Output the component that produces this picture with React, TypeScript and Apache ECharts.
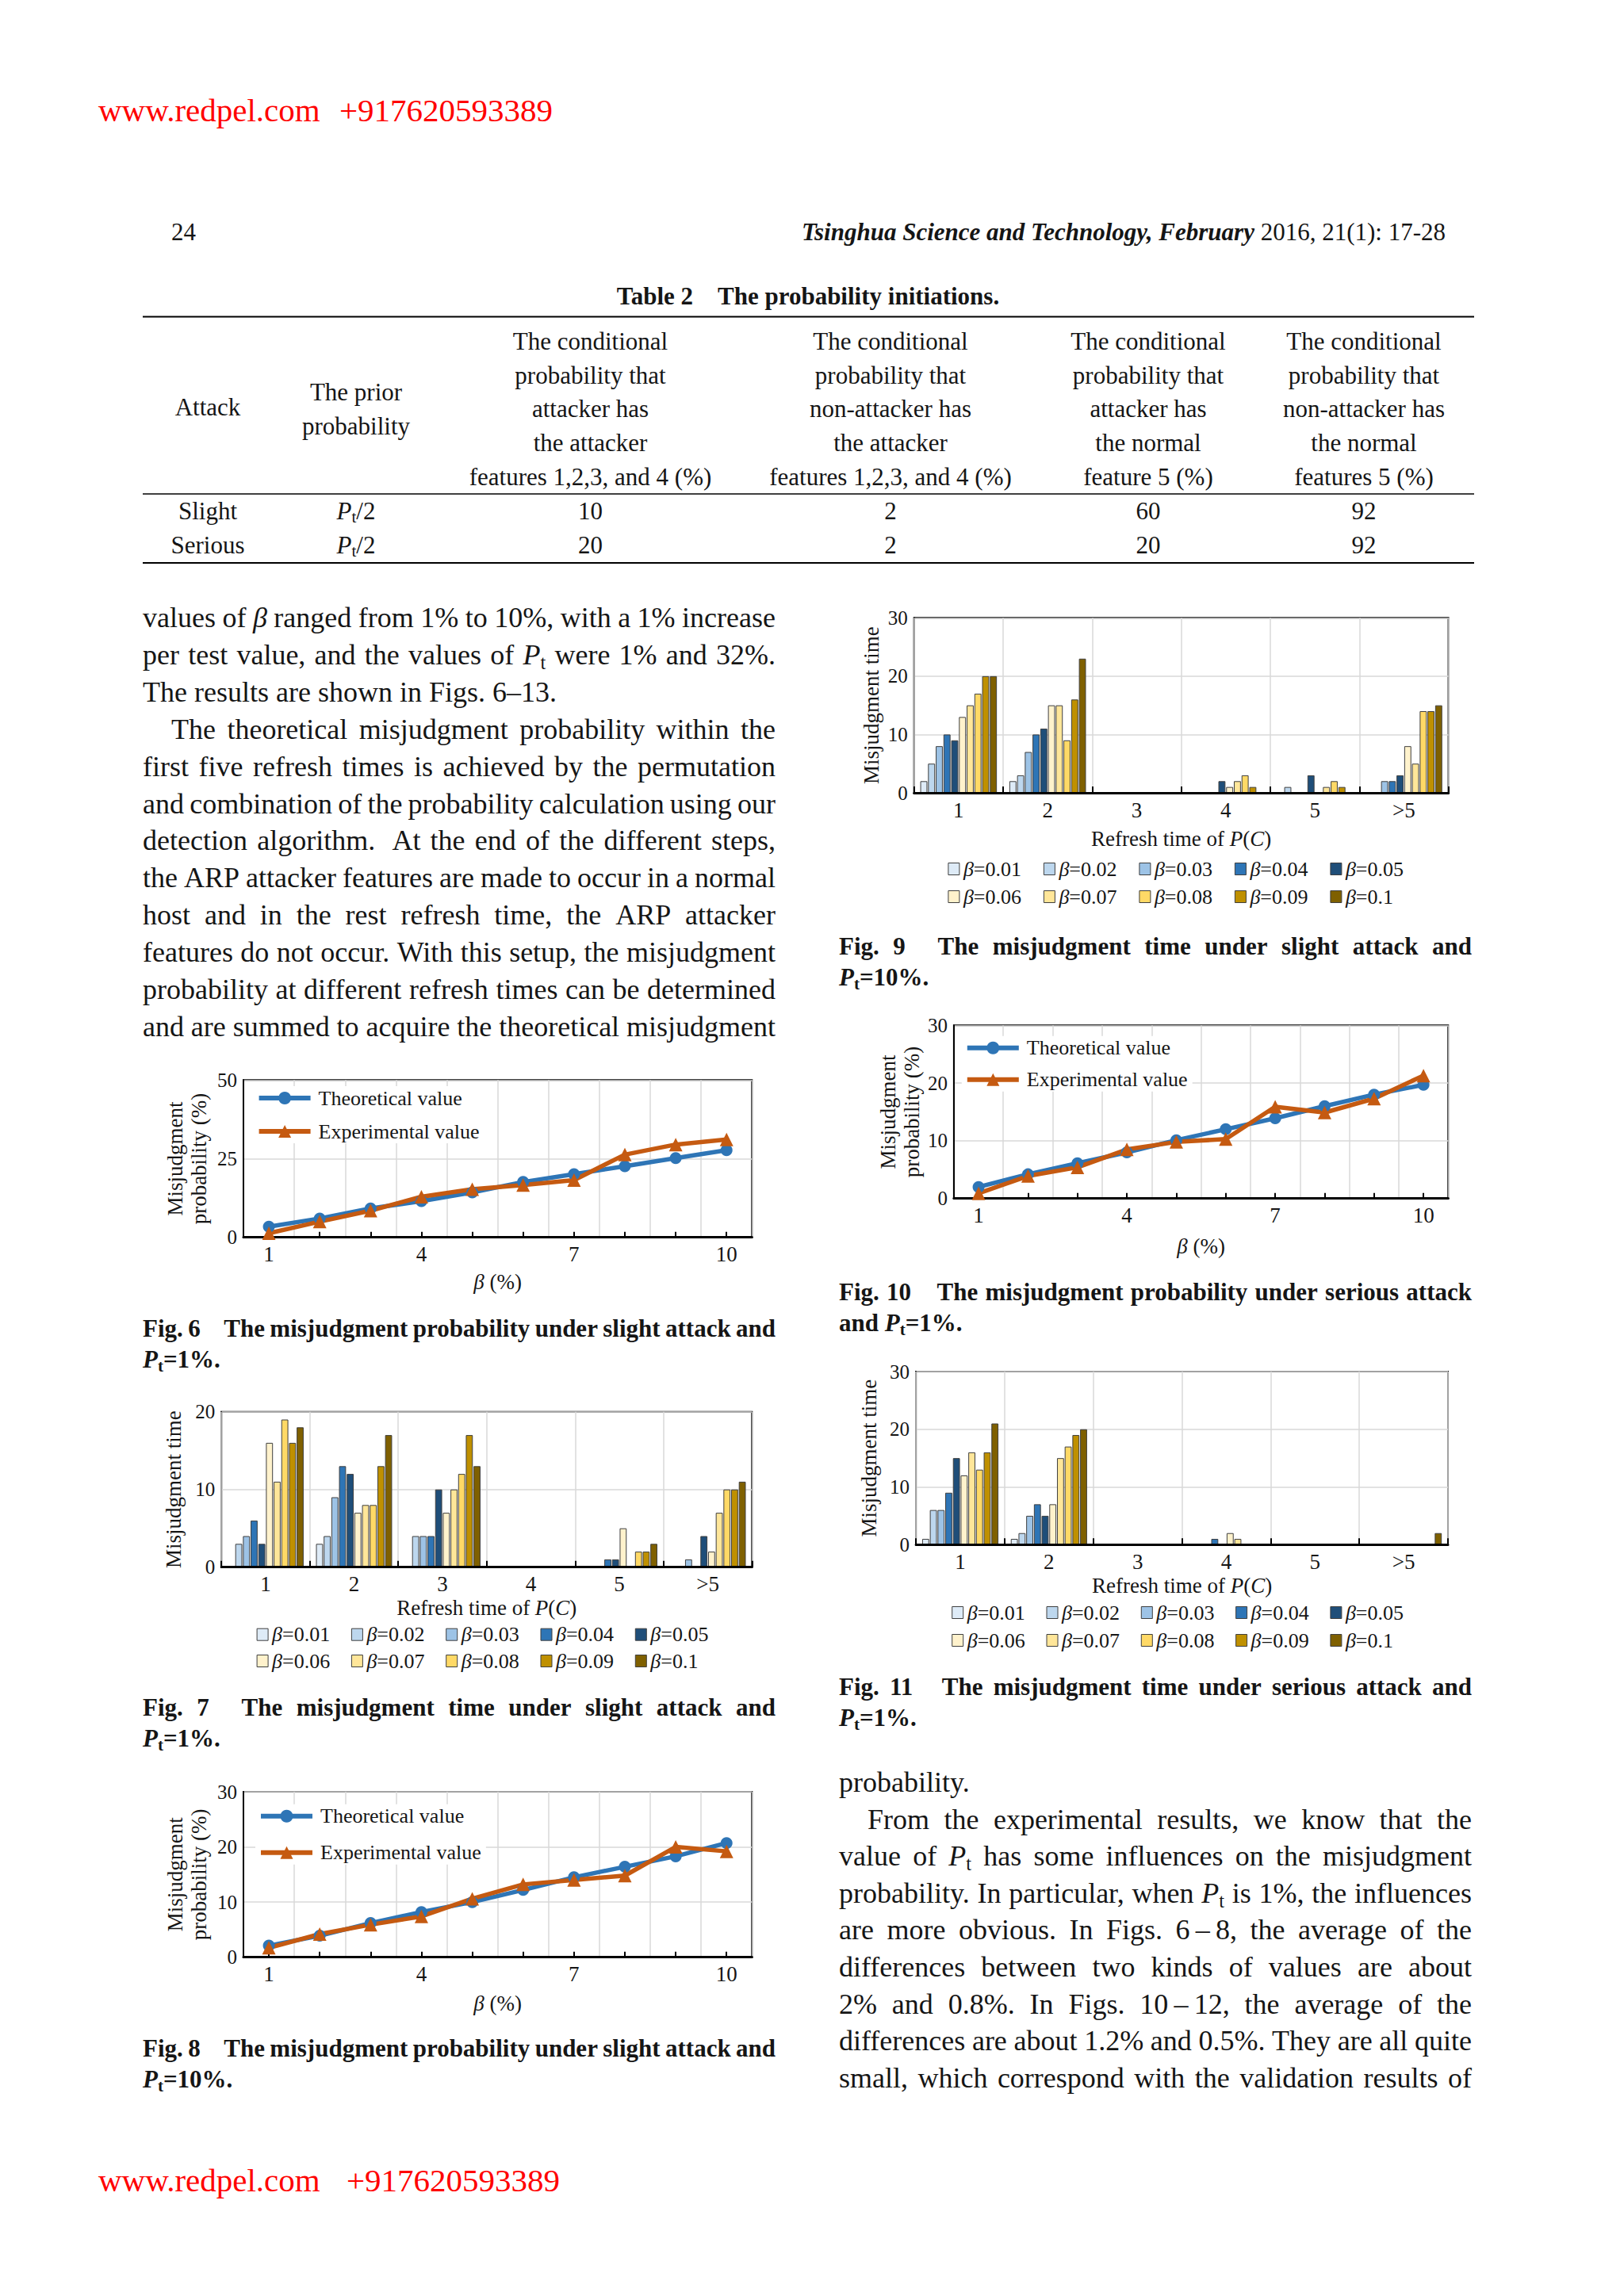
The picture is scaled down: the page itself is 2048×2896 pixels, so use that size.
import React, { useEffect, useRef } from 'react';
import * as echarts from 'echarts';

const SERIF = '"Liberation Serif", "Times New Roman", Times, serif';
const INK = '#151515';
const GRID_GRAY = '#d9d9d9';
const BLUE = '#2e75b6';
const ORANGE = '#c55a11';
const BAR_EDGE = '#3f3f3f';

// ---------------- data ----------------
const refreshCategories = ['1', '2', '3', '4', '5', '>5'];
const betaLabels = ['β=0.01', 'β=0.02', 'β=0.03', 'β=0.04', 'β=0.05', 'β=0.06', 'β=0.07', 'β=0.08', 'β=0.09', 'β=0.1'];
const betaColors = ['#deebf7', '#bdd7ee', '#9dc3e6', '#2e75b6', '#1f4e79', '#fff2cc', '#ffe699', '#ffd966', '#bf9000', '#7f6000'];
const betaPercentCategories = ['1', '2', '3', '4', '5', '6', '7', '8', '9', '10'];

// Fig. 6: slight attack, Pt = 1%
const fig6Theoretical = [3.4, 6.0, 9.2, 11.5, 14.3, 17.6, 20.1, 22.6, 25.2, 27.7];
const fig6Experimental = [1.3, 5.0, 8.5, 12.9, 15.3, 16.6, 18.2, 26.3, 29.5, 31.1];
// Fig. 8: slight attack, Pt = 10%
const fig8Theoretical = [2.1, 3.9, 6.2, 8.2, 10.0, 12.2, 14.5, 16.4, 18.3, 20.7];
const fig8Experimental = [1.7, 4.2, 5.9, 7.4, 10.6, 13.2, 14.0, 14.8, 20.0, 19.2];
// Fig. 10: serious attack, Pt = 1%
const fig10Theoretical = [2.0, 4.2, 6.1, 8.0, 10.1, 12.0, 13.9, 16.0, 18.0, 19.7];
const fig10Experimental = [0.9, 3.9, 5.4, 8.5, 9.8, 10.3, 15.9, 14.9, 17.3, 21.3];

// Misjudgment times, one row per beta (0.01 ... 0.1), columns = refresh time 1..5, >5
const fig7Times = [
  [0, 3, 0, 0, 0, 0],
  [3, 4, 4, 0, 0, 0],
  [4, 9, 4, 0, 0, 1],
  [6, 13, 4, 0, 1, 0],
  [3, 12, 10, 0, 1, 4],
  [16, 7, 7, 0, 5, 2],
  [11, 8, 10, 0, 0, 7],
  [19, 8, 12, 0, 2, 10],
  [16, 13, 17, 0, 2, 10],
  [18, 17, 13, 0, 3, 11],
];
const fig9Times = [
  [2, 2, 0, 0, 0, 0],
  [5, 3, 0, 0, 1, 0],
  [8, 7, 0, 0, 0, 2],
  [10, 10, 0, 0, 0, 2],
  [9, 11, 0, 2, 3, 3],
  [13, 15, 0, 1, 0, 8],
  [15, 15, 0, 2, 1, 5],
  [17, 9, 0, 3, 2, 14],
  [20, 16, 0, 1, 1, 14],
  [20, 23, 0, 0, 0, 15],
];
const fig11Times = [
  [1, 1, 0, 0, 0, 0],
  [6, 2, 0, 0, 0, 0],
  [6, 5, 0, 0, 0, 0],
  [9, 7, 0, 1, 0, 0],
  [15, 5, 0, 0, 0, 0],
  [12, 7, 0, 2, 0, 0],
  [16, 15, 0, 1, 0, 0],
  [13, 17, 0, 0, 0, 0],
  [16, 19, 0, 0, 0, 0],
  [21, 20, 0, 0, 0, 2],
];

// ---------------- page text ----------------
const tableHeaderCols = [
  ['The conditional', 'probability that', 'attacker has', 'the attacker', 'features 1,2,3, and 4 (%)'],
  ['The conditional', 'probability that', 'non-attacker has', 'the attacker', 'features 1,2,3, and 4 (%)'],
  ['The conditional', 'probability that', 'attacker has', 'the normal', 'feature 5 (%)'],
  ['The conditional', 'probability that', 'non-attacker has', 'the normal', 'features 5 (%)'],
];
const tableRows = [
  ['Slight', '{i|P}{s|t}/2', '10', '2', '60', '92'],
  ['Serious', '{i|P}{s|t}/2', '20', '2', '20', '92'],
];

const leftColumnLines = [
  { t: 'values of {i|β} ranged from 1% to 10%, with a 1% increase' },
  { t: 'per test value, and the values of {i|P}{s|t} were 1% and 32%.' },
  { t: 'The results are shown in Figs. 6–13.', last: true },
  { t: 'The theoretical misjudgment probability within the', indent: true },
  { t: 'first five refresh times is achieved by the permutation' },
  { t: 'and combination of the probability calculation using our' },
  { t: 'detection algorithm.  At the end of the different steps,' },
  { t: 'the ARP attacker features are made to occur in a normal' },
  { t: 'host and in the rest refresh time, the ARP attacker' },
  { t: 'features do not occur. With this setup, the misjudgment' },
  { t: 'probability at different refresh times can be determined' },
  { t: 'and are summed to acquire the theoretical misjudgment' },
];
const rightColumnLines = [
  { t: 'probability.', last: true },
  { t: 'From the experimental results, we know that the', indent: true },
  { t: 'value of {i|P}{s|t} has some influences on the misjudgment' },
  { t: 'probability. In particular, when {i|P}{s|t} is 1%, the influences' },
  { t: 'are more obvious. In Figs. 6\u2009–\u20098, the average of the' },
  { t: 'differences between two kinds of values are about' },
  { t: '2% and 0.8%. In Figs. 10\u2009–\u200912, the average of the' },
  { t: 'differences are about 1.2% and 0.5%. They are all quite' },
  { t: 'small, which correspond with the validation results of' },
];

const captions = [
  { l1: 'Fig. 6    The misjudgment probability under slight attack and', l2: '{i|P}{s|t}=1%.', col: 0, y: 1675 },
  { l1: 'Fig. 7    The misjudgment time under slight attack and', l2: '{i|P}{s|t}=1%.', col: 0, y: 2153 },
  { l1: 'Fig. 8    The misjudgment probability under slight attack and', l2: '{i|P}{s|t}=10%.', col: 0, y: 2583 },
  { l1: 'Fig. 9    The misjudgment time under slight attack and', l2: '{i|P}{s|t}=10%.', col: 1, y: 1193 },
  { l1: 'Fig. 10    The misjudgment probability under serious attack', l2: 'and {i|P}{s|t}=1%.', col: 1, y: 1629 },
  { l1: 'Fig. 11    The misjudgment time under serious attack and', l2: '{i|P}{s|t}=1%.', col: 1, y: 2127 },
];

// ---------------- text layout helpers ----------------
let measureCtx: CanvasRenderingContext2D | null = null;
function ctx2d() {
  if (!measureCtx) measureCtx = document.createElement('canvas').getContext('2d');
  return measureCtx as CanvasRenderingContext2D;
}
type Seg = { text: string; italic: boolean; bold: boolean; size: number; dy: number };
function makeSeg(key: string, text: string, size: number, bold: boolean): Seg {
  if (key === 'i') return { text, italic: true, bold, size, dy: 0 };
  if (key === 'b') return { text, italic: false, bold: true, size, dy: 0 };
  if (key === 'bi') return { text, italic: true, bold: true, size, dy: 0 };
  if (key === 's') return { text, italic: false, bold, size: size * 0.68, dy: size * 0.26 };
  return { text, italic: false, bold, size, dy: 0 };
}
function parseWord(word: string, size: number, bold: boolean): Seg[] {
  const segs: Seg[] = [];
  const re = /\{(\w+)\|([^}]*)\}/g;
  let last = 0;
  let m: RegExpExecArray | null;
  while ((m = re.exec(word))) {
    if (m.index > last) segs.push(makeSeg('n', word.slice(last, m.index), size, bold));
    segs.push(makeSeg(m[1], m[2], size, bold));
    last = re.lastIndex;
  }
  if (last < word.length) segs.push(makeSeg('n', word.slice(last), size, bold));
  return segs;
}
function fontCss(s: Seg) {
  return `${s.italic ? 'italic' : 'normal'} ${s.bold ? 'bold' : 'normal'} ${s.size}px ${SERIF}`;
}
function segWidth(s: Seg) {
  const c = ctx2d();
  c.font = fontCss(s);
  return c.measureText(s.text).width;
}
type Align = 'left' | 'justify' | 'center' | 'right';
function textLine(line: string, x0: number, x1: number, y: number, size: number, align: Align, bold = false, color = INK): any[] {
  const space = segWidth({ text: ' ', italic: false, bold, size, dy: 0 });
  const words: { segs: Seg[]; widths: number[]; width: number; extra: number }[] = [];
  let extra = 0;
  for (const tok of line.split(' ')) {
    if (tok === '') { extra += space; continue; }
    const segs = parseWord(tok, size, bold);
    const widths = segs.map(segWidth);
    words.push({ segs, widths, width: widths.reduce((a, b) => a + b, 0), extra: words.length ? extra : 0 });
    extra = 0;
  }
  const fixed = words.reduce((a, w) => a + w.width + w.extra, 0);
  const n = words.length;
  let gap = space;
  if (align === 'justify' && n > 1) gap = Math.max(2, (x1 - x0 - fixed) / (n - 1));
  const total = fixed + gap * Math.max(0, n - 1);
  let x = align === 'center' ? (x0 + x1) / 2 - total / 2 : align === 'right' ? x1 - total : x0;
  const els: any[] = [];
  words.forEach((w, i) => {
    if (i > 0) x += gap + w.extra;
    w.segs.forEach((s, j) => {
      els.push({
        type: 'text', x, y: y + s.dy, silent: true,
        style: {
          text: s.text, fill: color, fontSize: s.size, fontFamily: SERIF,
          fontStyle: s.italic ? 'italic' : 'normal', fontWeight: s.bold ? 'bold' : 'normal',
          align: 'left', verticalAlign: 'middle', textAlign: 'left', textVerticalAlign: 'middle',
        },
      });
      x += w.widths[j];
    });
  });
  return els;
}
function hLine(x1: number, x2: number, y: number, w: number) {
  return { type: 'line', silent: true, shape: { x1, y1: y, x2, y2: y }, style: { stroke: '#000', lineWidth: w } };
}

function buildGraphics() {
  const els: any[] = [];
  // watermark
  els.push(...textLine('www.redpel.com', 124, 124, 139, 41, 'left', false, '#ff0000'));
  els.push(...textLine('+917620593389', 428, 428, 139, 41, 'left', false, '#ff0000'));
  els.push(...textLine('www.redpel.com', 124, 124, 2750, 41, 'left', false, '#ff0000'));
  els.push(...textLine('+917620593389', 437, 437, 2750, 41, 'left', false, '#ff0000'));
  // running head
  els.push(...textLine('24', 216, 216, 292, 31, 'left'));
  els.push(...textLine('{bi|Tsinghua} {bi|Science} {bi|and} {bi|Technology,} {bi|February} 2016, 21(1): 17-28', 1823, 1823, 292, 31, 'right'));
  // table
  els.push(...textLine('Table 2    The probability initiations.', 1019, 1019, 373, 31, 'center', true));
  els.push(hLine(180, 1859, 399.5, 2.2));
  els.push(hLine(180, 1859, 623, 1.3));
  els.push(hLine(180, 1859, 710, 2.2));
  const colCenters = [262, 449, 744.5, 1123, 1448, 1720];
  const headerY = [430, 473, 515.5, 558, 601.5];
  els.push(...textLine('Attack', colCenters[0], colCenters[0], 513.5, 31, 'center'));
  els.push(...textLine('The prior', colCenters[1], colCenters[1], 494, 31, 'center'));
  els.push(...textLine('probability', colCenters[1], colCenters[1], 537, 31, 'center'));
  tableHeaderCols.forEach((col, ci) => {
    col.forEach((t, li) => els.push(...textLine(t, colCenters[ci + 2], colCenters[ci + 2], headerY[li], 31, 'center')));
  });
  const rowY = [644, 687];
  tableRows.forEach((row, ri) => {
    row.forEach((t, ci) => els.push(...textLine(t, colCenters[ci], colCenters[ci], rowY[ri], 31, 'center')));
  });
  // body text
  leftColumnLines.forEach((ln: any, i) => {
    els.push(...textLine(ln.t, 180 + (ln.indent ? 36 : 0), 978, 779 + i * 46.9, 36, ln.last ? 'left' : 'justify'));
  });
  rightColumnLines.forEach((ln: any, i) => {
    els.push(...textLine(ln.t, 1058 + (ln.indent ? 36 : 0), 1856, 2248 + i * 46.6, 36, ln.last ? 'left' : 'justify'));
  });
  // captions
  captions.forEach((c) => {
    const x0 = c.col === 0 ? 180 : 1058;
    const x1 = c.col === 0 ? 978 : 1856;
    els.push(...textLine(c.l1, x0, x1, c.y, 31, 'justify', true));
    els.push(...textLine(c.l2, x0, x1, c.y + 39.5, 31, 'left', true));
  });
  return els;
}

// ---------------- chart config helpers ----------------
const axisText = { fontFamily: SERIF, color: INK };
const italicRich = (size: number) => ({ i: { fontStyle: 'italic', fontSize: size, fontFamily: SERIF, color: INK } });

function yAxisCfg(gridIndex: number, max: number, interval: number, name: string, nameGap: number) {
  return {
    type: 'value', gridIndex, min: 0, max, interval,
    axisLine: { show: true, lineStyle: { color: '#000', width: 2 } },
    axisTick: { show: false },
    axisLabel: { margin: 8, fontSize: 25, ...axisText },
    splitLine: { show: true, lineStyle: { color: GRID_GRAY, width: 1.5 } },
    name, nameLocation: 'middle', nameGap, nameRotate: 90, nameMoveOverlap: false,
    nameTextStyle: { fontSize: 27, lineHeight: 30, ...axisText },
  };
}
function barXAxis(gridIndex: number, nameGap: number) {
  return {
    type: 'category', gridIndex, data: refreshCategories, boundaryGap: true, z: 5,
    axisLine: { show: true, lineStyle: { color: '#000', width: 3 } },
    axisTick: { show: true, inside: true, interval: 0, length: 8, lineStyle: { color: '#000', width: 2 } },
    axisLabel: { interval: 0, margin: 8, fontSize: 27, ...axisText },
    splitLine: { show: true, interval: 0, lineStyle: { color: GRID_GRAY, width: 1.5 } },
    name: 'Refresh time of {i|P}({i|C})', nameLocation: 'middle', nameGap, nameMoveOverlap: false,
    nameTextStyle: { fontSize: 27, ...axisText, rich: italicRich(27) },
  };
}
function lineXAxis(gridIndex: number, nameGap: number) {
  return {
    type: 'category', gridIndex, data: betaPercentCategories, boundaryGap: true,
    axisLine: { show: true, lineStyle: { color: '#000', width: 3 } },
    axisTick: { show: true, inside: true, alignWithLabel: true, interval: 0, length: 7, lineStyle: { color: '#000', width: 2 } },
    axisLabel: { interval: 2, margin: 8, fontSize: 27, ...axisText },
    splitLine: { show: true, interval: 0, lineStyle: { color: GRID_GRAY, width: 1.5 } },
    name: '{i|β} (%)', nameLocation: 'middle', nameGap, nameMoveOverlap: false,
    nameTextStyle: { fontSize: 27, ...axisText, rich: italicRich(27) },
  };
}
function barSeries(axisIndex: number, table: number[][]) {
  return table.map((vals, k) => ({
    type: 'bar', name: betaLabels[k], xAxisIndex: axisIndex, yAxisIndex: axisIndex, data: vals,
    barGap: '10%', barCategoryGap: '14%',
    itemStyle: { color: betaColors[k], borderColor: BAR_EDGE, borderWidth: 1 },
  }));
}
function lineSeries(axisIndex: number, theo: number[], exp: number[]) {
  return [
    {
      type: 'line', name: 'Theoretical value', xAxisIndex: axisIndex, yAxisIndex: axisIndex, data: theo,
      symbol: 'circle', symbolSize: 15, lineStyle: { width: 5.5, color: BLUE }, itemStyle: { color: BLUE },
    },
    {
      type: 'line', name: 'Experimental value', xAxisIndex: axisIndex, yAxisIndex: axisIndex, data: exp,
      symbol: 'triangle', symbolSize: 17, lineStyle: { width: 5.5, color: ORANGE }, itemStyle: { color: ORANGE },
    },
  ];
}
function betaLegends(x0: number, pitch: number, row1: number, row2: number) {
  return betaLabels.map((name, k) => ({
    data: [name], left: x0 + (k % 5) * pitch, top: (k < 5 ? row1 : row2) - 13, padding: 0,
    itemWidth: 14, itemHeight: 15, icon: 'rect', selectedMode: false,
    itemStyle: { borderColor: BAR_EDGE, borderWidth: 1 },
    formatter: (n: string) => '{i|β}' + n.slice(1),
    textStyle: { fontSize: 26, ...axisText, rich: italicRich(26) },
  }));
}
function lineLegend(left: number, top: number, itemGap: number) {
  return {
    data: ['Theoretical value', 'Experimental value'], orient: 'vertical', left, top, itemGap,
    itemWidth: 65, itemHeight: 20, padding: [2, 6, 2, 4], backgroundColor: '#ffffff', selectedMode: false,
    lineStyle: { width: 6 },
    textStyle: { fontSize: 26, ...axisText, padding: [0, 0, 0, 5] },
  };
}

const gridBoxes = [
  { left: 307, top: 1362.3, width: 641.3, height: 198.4 }, // Fig 6
  { left: 279.2, top: 1780.7, width: 669.1, height: 196 }, // Fig 7
  { left: 307, top: 2260, width: 641.3, height: 208.7 }, // Fig 8
  { left: 1152.7, top: 779.3, width: 673.9, height: 220.7 }, // Fig 9
  { left: 1202.9, top: 1293.3, width: 623.4, height: 218.4 }, // Fig 10
  { left: 1155.1, top: 1730, width: 670.9, height: 218.3 }, // Fig 11
];

function buildOption() {
  const probName = 'Misjudgment\nprobability (%)';
  const timeName = 'Misjudgment time';
  return {
    animation: false,
    backgroundColor: '#ffffff',
    textStyle: { fontFamily: SERIF },
    grid: gridBoxes.map((g) => ({
      ...g, show: true, borderColor: '#000', borderWidth: 2, backgroundColor: 'transparent',
      containLabel: false, outerBoundsMode: 'none',
    })),
    xAxis: [
      lineXAxis(0, 42.5),
      barXAxis(1, 38),
      lineXAxis(2, 44.5),
      barXAxis(3, 44.5),
      lineXAxis(4, 46.5),
      barXAxis(5, 38),
    ],
    yAxis: [
      yAxisCfg(0, 50, 25, probName, 41.5),
      yAxisCfg(1, 20, 10, timeName, 45.7),
      yAxisCfg(2, 30, 10, probName, 41.5),
      yAxisCfg(3, 30, 10, timeName, 39.2),
      yAxisCfg(4, 30, 10, probName, 38),
      yAxisCfg(5, 30, 10, timeName, 44),
    ],
    legend: [
      lineLegend(319.6, 1370, 16),
      lineLegend(322, 2275.7, 20),
      lineLegend(1212.8, 1306.7, 14),
      ...betaLegends(323.6, 119.3, 2061.7, 2095),
      ...betaLegends(1195.4, 120.5, 1096, 1131),
      ...betaLegends(1200.2, 119.3, 2034, 2069),
    ],
    series: [
      ...lineSeries(0, fig6Theoretical, fig6Experimental),
      ...barSeries(1, fig7Times),
      ...lineSeries(2, fig8Theoretical, fig8Experimental),
      ...barSeries(3, fig9Times),
      ...lineSeries(4, fig10Theoretical, fig10Experimental),
      ...barSeries(5, fig11Times),
    ],
    graphic: { elements: buildGraphics() },
  };
}

export default function App() {
  const ref = useRef<HTMLDivElement>(null);
  useEffect(() => {
    if (!ref.current) return;
    const chart = echarts.init(ref.current, null, { renderer: 'svg', width: 2048, height: 2896 });
    chart.setOption(buildOption() as any);
    return () => chart.dispose();
  }, []);
  return (
    <div
      ref={ref}
      style={{ position: 'absolute', left: 0, top: 0, width: 2048, height: 2896, background: '#ffffff' }}
    />
  );
}
